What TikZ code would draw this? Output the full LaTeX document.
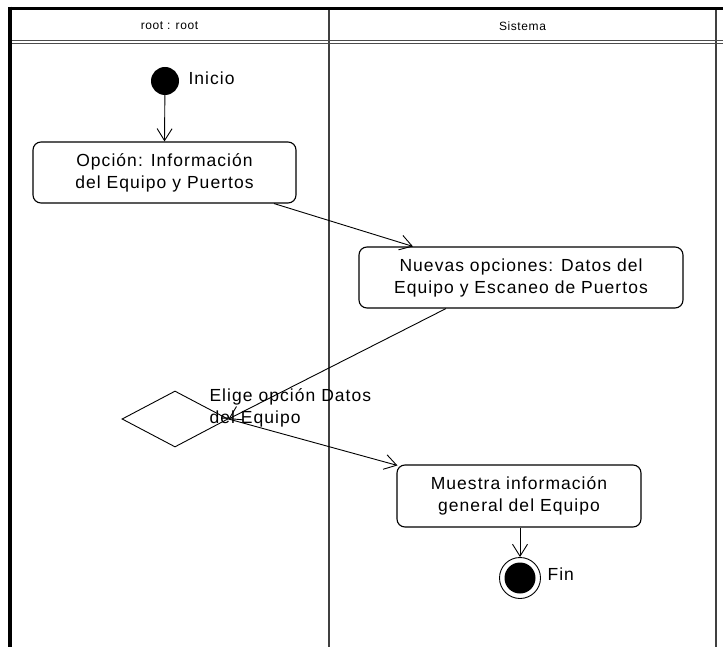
\documentclass[tikz,border=0pt]{standalone}
\usepackage{fontspec}
\setmainfont{Liberation Sans}
\newfontfamily\lblfont[LetterSpace=6]{Liberation Sans}
\newfontfamily\hdrfont[LetterSpace=5]{Liberation Sans}
\usetikzlibrary{arrows.meta,shapes.geometric,calc}
\begin{document}
\begin{tikzpicture}[x=1pt,y=-1pt,
  lane/.style={draw=black!75,line width=1.1pt},
  frame/.style={draw=black,line width=3.5pt},
  hdr/.style={font=\hdrfont\fontsize{12}{14}\selectfont},
  txt/.style={font=\lblfont\fontsize{17.5}{22}\selectfont},
  actbox/.style={draw,line width=1.1pt,rounded corners=8pt,align=center,
    inner sep=0pt,minimum height=61pt,txt},
  flow/.style={line width=0.9pt,-{Straight Barb[length=12pt,width=15pt,line width=0.9pt]}},
  choice/.style={draw,diamond,line width=0.9pt,inner sep=0pt,
    minimum width=106pt,minimum height=56pt}]
\useasboundingbox (0,0) rectangle (723,647);
\fill[white] (0,0) rectangle (723,647);

% swimlane frame
\draw[lane] (329,8) -- (329,647);
\draw[lane] (716,8) -- (716,647);
\draw[draw=black!70,line width=0.8pt] (10,40) -- (723,40);
\draw[draw=black!70,line width=0.8pt] (10,43) -- (723,43);
\draw[frame] (8,8.5) -- (723,8.5);
\draw[frame] (10,6.75) -- (10,647);

\node[hdr] (h1) at (169.5,26) {root : root};
\node[hdr] (h2) at (522.5,26) {Sistema};

% activity nodes
\node[circle,fill=black,minimum size=28pt,inner sep=0pt] (init) at (165,81) {};
\node[txt,anchor=west] (initlbl) at (185,78) {Inicio};

\node[actbox,minimum width=263pt] (a) at (164.5,172.5)
  {Opción: Información\\del Equipo y Puertos};
\node[actbox,minimum width=324pt] (b) at (521,277.5)
  {Nuevas opciones: Datos del\\Equipo y Escaneo de Puertos};
\node[choice] (d) at (175,419) {};
\node[txt,anchor=north west,align=left] (dlbl) at (206,385)
  {Elige opción Datos\\del Equipo};
\node[actbox,minimum width=244pt,minimum height=62pt] (c) at (519,496)
  {Muestra información\\general del Equipo};

\node[circle,draw,line width=0.9pt,minimum size=41pt,inner sep=0pt] (fin) at (520,578) {};
\fill (fin.center) circle (15.5pt);
\node[txt,anchor=west] (finlbl) at (544,574) {Fin};

% transitions
\draw[flow] (init) -- (a.north);
\draw[flow] ([xshift=109.5pt]a.south) -- ([xshift=-108pt]b.north);
\draw[flow] ([xshift=-75pt]b.south) -- (d.east);
\draw[flow] (d.east) -- ([xshift=1pt,yshift=-1pt]c.north west);
\draw[flow] (c.south -| fin) -- (fin.north);
\end{tikzpicture}
\end{document}
